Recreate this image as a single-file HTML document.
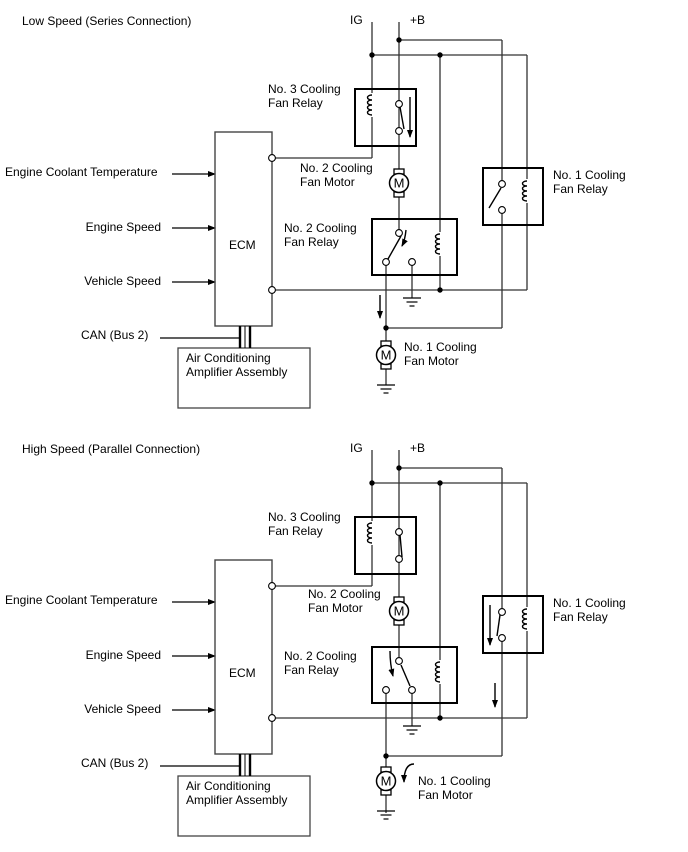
<!DOCTYPE html>
<html><head><meta charset="utf-8"><style>
html,body{margin:0;padding:0;background:#fff;}
svg{display:block;font-family:"Liberation Sans",Arial,sans-serif;font-size:12px;}
</style></head><body>
<svg width="688" height="852" viewBox="0 0 688 852" xmlns="http://www.w3.org/2000/svg">
<defs>
<marker id="ah" markerWidth="8" markerHeight="8" refX="7" refY="4" orient="auto" markerUnits="userSpaceOnUse"><path d="M0,1 L8,4 L0,7 Z" fill="#000"/></marker>
<g id="coil"><path d="M0,-10 c-6,0 -6,5 0,5 c-6,0 -6,5 0,5 c-6,0 -6,5 0,5 c-6,0 -6,5 0,5" fill="none" stroke="#000" stroke-width="1.4"/></g>
<g id="motor"><rect x="-5" y="-14" width="10" height="5" fill="#fff" stroke="#000" stroke-width="1.3"/><rect x="-5" y="9" width="10" height="5" fill="#fff" stroke="#000" stroke-width="1.3"/><circle r="9.5" fill="#fff" stroke="#000" stroke-width="1.5"/><text x="0" y="4.5" text-anchor="middle" font-size="13">M</text></g>
<g id="gnd"><line x1="-9" y1="0" x2="9" y2="0" stroke="#000" stroke-width="1.2"/><line x1="-5.5" y1="4" x2="5.5" y2="4" stroke="#000" stroke-width="1.2"/><line x1="-2.5" y1="8" x2="2.5" y2="8" stroke="#000" stroke-width="1.2"/></g>
<g id="common">
<g stroke="#333" stroke-width="1.3" fill="none">
<line x1="172" y1="174" x2="215" y2="174" marker-end="url(#ah)" stroke="#000"/>
<line x1="172" y1="228" x2="215" y2="228" marker-end="url(#ah)" stroke="#000"/>
<line x1="172" y1="282" x2="215" y2="282" marker-end="url(#ah)" stroke="#000"/>
<rect x="215" y="132" width="57" height="194" stroke="#444" stroke-width="1.4"/>
<line x1="160" y1="338" x2="239" y2="338" stroke="#000"/>
<rect x="178" y="348" width="132" height="60" stroke="#444"/>
<line x1="372" y1="22" x2="372" y2="158"/>
<line x1="399" y1="22" x2="399" y2="233"/>
<line x1="399" y1="40" x2="502" y2="40"/><line x1="502" y1="40" x2="502" y2="184"/>
<line x1="372" y1="55" x2="527" y2="55"/><line x1="527" y1="55" x2="527" y2="290"/>
<line x1="440" y1="55" x2="440" y2="290"/>
<line x1="272" y1="158" x2="372" y2="158"/>
<line x1="272" y1="290" x2="527" y2="290"/>
<line x1="386" y1="262" x2="386" y2="385"/>
<line x1="386" y1="328" x2="502" y2="328"/><line x1="502" y1="210" x2="502" y2="328"/>
<line x1="412" y1="262" x2="412" y2="298"/>
</g>
<g stroke="#000" stroke-width="2.4"><line x1="240" y1="326" x2="240" y2="348"/><line x1="250" y1="326" x2="250" y2="348"/></g>
<g stroke="#000" stroke-width="1"><line x1="245" y1="326" x2="245" y2="348"/></g>
<g stroke="#000" stroke-width="2" fill="none">
<rect x="355" y="89" width="61" height="57"/>
<rect x="372" y="219" width="85" height="56"/>
<rect x="483" y="168" width="60" height="57"/>
</g>
<rect x="368" y="93" width="8" height="24" fill="#fff"/><use href="#coil" x="372" y="105"/>
<rect x="436" y="232" width="8" height="24" fill="#fff"/><use href="#coil" x="440" y="244"/>
<rect x="523" y="179" width="8" height="24" fill="#fff"/><use href="#coil" x="527" y="191"/>
<g fill="#fff" stroke="#000" stroke-width="1.1">
<circle cx="272" cy="158" r="3.4"/><circle cx="272" cy="290" r="3.4"/>
<circle cx="399" cy="104" r="3.4"/><circle cx="399" cy="131" r="3.4"/>
<circle cx="399" cy="233" r="3.4"/><circle cx="386" cy="262" r="3.4"/><circle cx="412" cy="262" r="3.4"/>
<circle cx="502" cy="184" r="3.4"/><circle cx="502" cy="210" r="3.4"/>
</g>
<g fill="#000"><circle cx="399" cy="40" r="2.7"/><circle cx="372" cy="55" r="2.7"/><circle cx="440" cy="55" r="2.7"/><circle cx="440" cy="290" r="2.7"/><circle cx="386" cy="328" r="2.7"/></g>
<use href="#motor" x="399" y="183"/>
<use href="#gnd" x="412" y="298"/>
<text x="5" y="176">Engine Coolant Temperature</text>
<text x="161" y="231" text-anchor="end">Engine Speed</text>
<text x="161" y="285" text-anchor="end">Vehicle Speed</text>
<text x="81" y="339">CAN (Bus 2)</text>
<text x="229" y="249">ECM</text>
<text x="186" y="362">Air Conditioning</text><text x="186" y="376">Amplifier Assembly</text>
<text x="350" y="24">IG</text><text x="410" y="24">+B</text>
<text x="268" y="93">No. 3 Cooling</text><text x="268" y="107">Fan Relay</text>
<text x="284" y="232">No. 2 Cooling</text><text x="284" y="246">Fan Relay</text>
<text x="553" y="179">No. 1 Cooling</text><text x="553" y="193">Fan Relay</text>
</g>
</defs>

<text x="22" y="25">Low Speed (Series Connection)</text>
<use href="#common"/>
<use href="#motor" x="386" y="355"/>
<use href="#gnd" x="386" y="385"/>
<text x="300" y="172">No. 2 Cooling</text><text x="300" y="186">Fan Motor</text>
<text x="404" y="351">No. 1 Cooling</text><text x="404" y="365">Fan Motor</text>
<g stroke="#000" stroke-width="1.4" fill="none">
<line x1="400" y1="107" x2="404" y2="129"/>
<line x1="401" y1="236" x2="388" y2="259"/>
<line x1="501" y1="188" x2="489" y2="208"/>
<line x1="410" y1="97" x2="410" y2="137" marker-end="url(#ah)"/>
<path d="M406,230 Q405,240 402,246" marker-end="url(#ah)"/>
<line x1="380" y1="295" x2="380" y2="318" marker-end="url(#ah)"/>
</g>

<text x="22" y="453">High Speed (Parallel Connection)</text>
<g transform="translate(0,428)"><use href="#common"/></g>
<use href="#motor" x="386" y="781"/>
<use href="#gnd" x="386" y="811"/>
<text x="308" y="598">No. 2 Cooling</text><text x="308" y="612">Fan Motor</text>
<text x="418" y="785">No. 1 Cooling</text><text x="418" y="799">Fan Motor</text>
<g stroke="#000" stroke-width="1.4" fill="none">
<line x1="400" y1="535" x2="402" y2="557"/>
<line x1="401" y1="665" x2="410" y2="686"/>
<line x1="500" y1="615" x2="497" y2="636"/>
<line x1="490" y1="605" x2="490" y2="645" marker-end="url(#ah)"/>
<path d="M390,651 Q390,664 393,676" marker-end="url(#ah)"/>
<line x1="495" y1="683" x2="495" y2="707" marker-end="url(#ah)"/>
<path d="M414,764 Q404,764 404,782" marker-end="url(#ah)"/>
</g>
</svg>
</body></html>
